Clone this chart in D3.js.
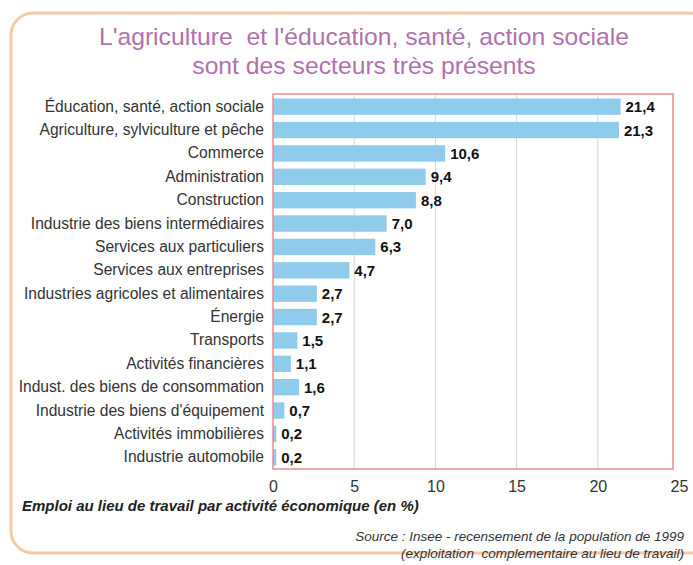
<!DOCTYPE html>
<html><head><meta charset="utf-8">
<script src="https://cdn.jsdelivr.net/npm/d3@7"></script>
<style>body{margin:0;background:#fff}svg{display:block}text{white-space:pre}</style>
</head><body>
<script>
const categories = ["Éducation, santé, action sociale","Agriculture, sylviculture et pêche","Commerce","Administration","Construction","Industrie des biens intermédiaires","Services aux particuliers","Services aux entreprises","Industries agricoles et alimentaires","Énergie","Transports","Activités financières","Indust. des biens de consommation","Industrie des biens d'équipement","Activités immobilières","Industrie automobile"];
const values = [21.4,21.3,10.6,9.4,8.8,7.0,6.3,4.7,2.7,2.7,1.5,1.1,1.6,0.7,0.2,0.2];
const valueLabels = ["21,4","21,3","10,6","9,4","8,8","7,0","6,3","4,7","2,7","2,7","1,5","1,1","1,6","0,7","0,2","0,2"];
const ticks = [0,5,10,15,20,25];
const titleLines = ["L'agriculture  et l'éducation, santé, action sociale","sont des secteurs très présents"];
const axisTitle = "Emploi au lieu de travail par activité économique (en %)";
const sourceLines = ["Source : Insee - recensement de la population de 1999","(exploitation  complementaire au lieu de travail)"];

const W=693,H=565;
const svg=d3.select("body").append("svg").attr("width",W).attr("height",H);
const sans="'Liberation Sans',Arial,sans-serif";

// outer rounded frame
svg.append("rect").attr("x",11).attr("y",13).attr("width",700).attr("height",540).attr("rx",22)
  .attr("fill","none").attr("stroke","#f6c9a6").attr("stroke-width",3);

// title
svg.selectAll("text.title").data(titleLines).join("text").attr("class","title")
  .attr("transform",(d,i)=>`translate(364,${45+i*28.5}) scale(1.03,1)`).attr("text-anchor","middle")
  .attr("font-family",sans).attr("font-size",24).attr("fill","#b071ac").text(d=>d);

const x=d3.scaleLinear().domain([0,25]).range([273,679]);
const y=d3.scaleBand().domain(categories).range([95,469]).paddingInner(0.3).paddingOuter(0.15);

// gridlines
svg.append("g").selectAll("line").data(ticks.slice(1,-1)).join("line")
  .attr("x1",d=>x(d)).attr("x2",d=>x(d)).attr("y1",95).attr("y2",469)
  .attr("stroke","#d8d8dc").attr("stroke-width",1);

// bars
svg.append("g").selectAll("rect").data(values).join("rect")
  .attr("x",x(0)).attr("y",(d,i)=>y(categories[i])).attr("width",d=>x(d)-x(0))
  .attr("height",y.bandwidth()).attr("fill","#8fcbeb");

// plot frame
svg.append("rect").attr("x",273).attr("y",94).attr("width",400).attr("height",375)
  .attr("fill","none").attr("stroke","#ee8a8f").attr("stroke-width",1.5);

// value labels
svg.append("g").selectAll("text").data(values).join("text")
  .attr("x",d=>x(d)+5).attr("y",(d,i)=>y(categories[i])+y.bandwidth()/2+5.5)
  .attr("font-family",sans).attr("font-weight","bold")
  .attr("font-size",15).attr("fill","#111").text((d,i)=>valueLabels[i]);

// category labels
svg.append("g").selectAll("text").data(categories).join("text")
  .attr("x",264).attr("y",d=>y(d)+y.bandwidth()/2+5).attr("text-anchor","end")
  .attr("font-family",sans).attr("font-size",15.6).attr("fill","#333").text(d=>d);

// x axis
const ax=svg.append("g").attr("transform","translate(0,469)")
  .call(d3.axisBottom(x).tickValues(ticks).tickSize(0).tickPadding(12).tickFormat(d3.format("d")));
ax.select(".domain").remove();
ax.selectAll("text").attr("font-family",sans).attr("font-size",16).attr("fill","#333");

// axis title
svg.append("text").attr("x",22).attr("y",511).attr("font-family",sans)
  .attr("font-style","italic").attr("font-weight","bold").attr("font-size",15).attr("fill","#222").text(axisTitle);

// source
svg.selectAll("text.src").data(sourceLines).join("text").attr("class","src")
  .attr("x",684).attr("y",(d,i)=>541+i*17).attr("text-anchor","end")
  .attr("font-family",sans).attr("font-style","italic").attr("font-size",13.5).attr("fill","#333").text(d=>d);
</script>
</body></html>
